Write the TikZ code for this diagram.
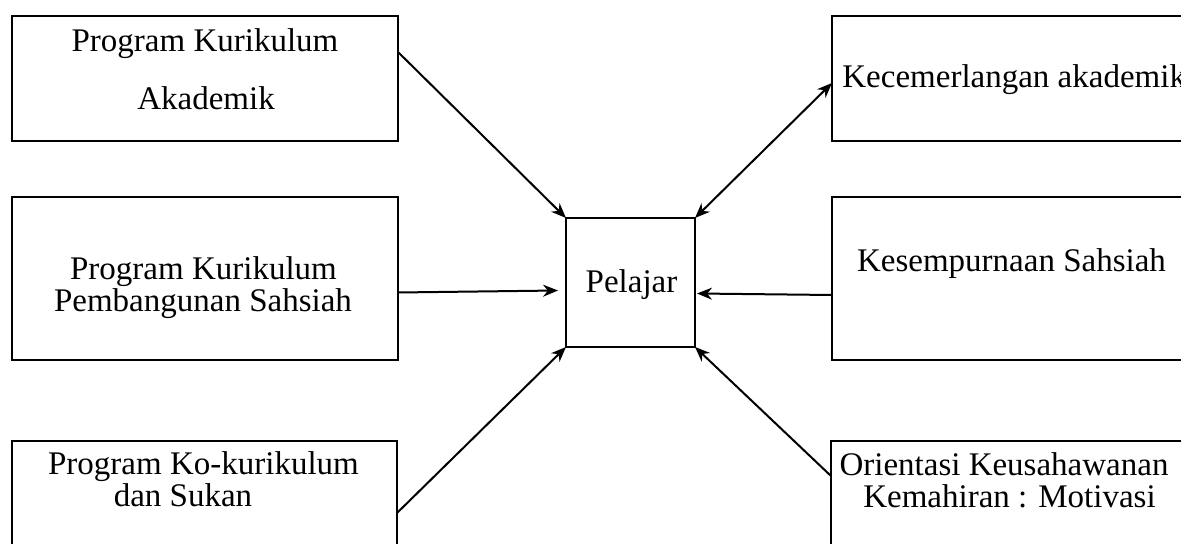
\documentclass[tikz,border=0pt]{standalone}
\usepackage{fontspec}
\setmainfont{Liberation Serif}
\usetikzlibrary{arrows.meta,calc}
\begin{document}
\begin{tikzpicture}[x=0.5pt,y=-0.5pt,
  box/.style={draw,line width=0.6pt,inner sep=0pt,outer sep=0pt},
  txt/.style={inner sep=0pt,anchor=base,font=\fontsize{16.5}{19.8}\selectfont},
  link/.style={line width=1pt,-{Stealth[length=7.5pt,width=6pt]}},
  dlink/.style={line width=1pt,{Stealth[length=7.5pt,width=6pt]}-{Stealth[length=7.5pt,width=6pt]}}]
\useasboundingbox (0,0) rectangle (1181,544);
\clip (0,0) rectangle (1181,544);
% boxes
\node[box,minimum width=193pt,minimum height=62.5pt] (b1) at (205,78.5) {};
\node[box,minimum width=193pt,minimum height=81.5pt] (b2) at (205,278.5) {};
\node[box,minimum width=192.5pt,minimum height=79.5pt] (b3) at (204.5,520.5) {};
\node[box,minimum width=199pt,minimum height=62.5pt] (b4) at (1031,78.5) {};
\node[box,minimum width=199pt,minimum height=81.5pt] (b5) at (1031,278.5) {};
\node[box,minimum width=199.5pt,minimum height=80pt] (b6) at (1030.5,521) {};
\node[box,minimum width=64.5pt,minimum height=64.5pt] (p) at (630.5,282.5) {};
% texts
\node[txt] (t1a) at (205,52) {Program Kurikulum};
\node[txt] (t1b) at (206,110) {Akademik};
\node[txt] (t2a) at (203.5,280) {Program Kurikulum};
\node[txt] (t2b) at (203,312) {Pembangunan Sahsiah};
\node[txt] (t3a) at (203.5,474) {Program Ko-kurikulum};
\node[txt] (t3b) at (183,506) {dan Sukan};
\node[txt,anchor=base west] (t4) at (842,88) {Kecemerlangan akademik};
\node[txt] (t5) at (1011.5,272) {Kesempurnaan Sahsiah};
\node[txt] (t6a) at (1004,475) {Orientasi Keusahawanan};
\node[txt] (t6b) at (1009.5,507) {Kemahiran : Motivasi};
\node[txt] (tp) at (631.5,293) {Pelajar};
% connectors
\draw[link] ($(b1.north east)+(0,36)$) -- (p.north west);
\draw[link] ($(b2.east)+(0,14)$) -- ($(p.west)+(-8,8)$);
\draw[link] ($(b3.north east)+(0,72)$) -- (p.south west);
\draw[dlink] ($(b4.north west)+(0,67)$) -- (p.north east);
\draw[link] ($(b5.west)+(0,16.5)$) -- ($(p.east)+(2,11)$);
\draw[link] ($(b6.north west)+(0,35)$) -- (p.south east);
\end{tikzpicture}
\end{document}
